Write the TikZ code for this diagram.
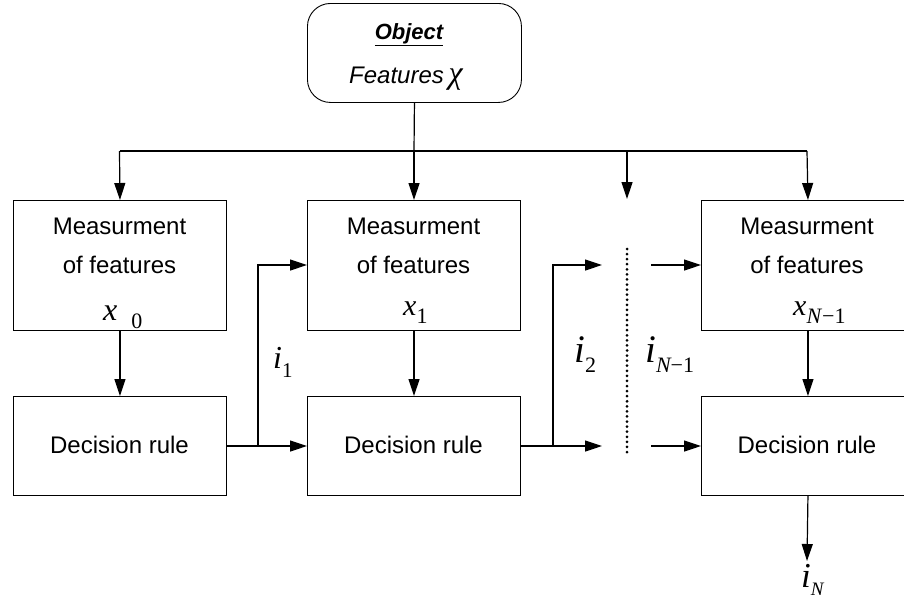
\documentclass[tikz,border=0pt]{standalone}
\usepackage{fontspec}
\setmainfont{Liberation Sans}
\newfontfamily\tms{Liberation Serif}
\usetikzlibrary{arrows.meta}
\newcommand{\fsz}[1]{\fontsize{#1}{#1}\selectfont}
\newcommand{\mvar}[2]{{\tms\itshape\fsz{#1}#2}}
\newcommand{\msub}[3]{\raisebox{-#1pt}{\tms\fsz{#2}#3}}
\begin{document}
\begin{tikzpicture}[x=1pt,y=-1pt,
  box/.style={draw,line width=0.9pt,minimum width=213pt,minimum height=130pt,inner sep=0pt,anchor=north west},
  dbox/.style={draw,line width=0.9pt,minimum width=213pt,minimum height=99pt,inner sep=0pt,anchor=north west},
  conn/.style={line width=1.2pt},
  arr/.style={line width=1.2pt,-{Triangle[length=17pt,width=11pt]}},
  lbl/.style={inner sep=0pt,anchor=base west},
  txt/.style={inner sep=0pt,anchor=base,font=\fsz{24}}]
\useasboundingbox (0,0) rectangle (904,598);
% object
\node[draw,line width=0.9pt,rounded corners=23pt,minimum width=214pt,minimum height=99pt,anchor=north west] (obj) at (307,3) {};
\node[txt,font=\fsz{22}] (objt) at (409,39) {\bfseries\itshape\underline{Object}};
\node[lbl] (objf) at (349,83) {\itshape\fsz{24}Features \hspace{-2pt}\mvar{32}{χ}};
% boxes
\node[box] (m0) at (13,200) {};
\node[box] (m1) at (307,200) {};
\node[box] (m2) at (701,200) {};
\node[dbox] (d0) at (13,396) {};
\node[dbox] (d1) at (307,396) {};
\node[dbox] (d2) at (701,396) {};
% texts
\foreach \n/\xx in {a/119.5,b/413.5,c/807}{
  \node[txt] (ma\n) at (\xx,234) {Measurment};
  \node[txt] (mb\n) at (\xx,273) {of features};
  \node[txt] (dr\n) at (\xx,453) {Decision rule};
}
\node[lbl] (x0) at (103,320) {\mvar{32}{x}\hspace{14pt}\msub{8}{22}{0}};
\node[lbl] (x1) at (403,315) {\mvar{30}{x}\hspace{0pt}\msub{8}{22}{1}};
\node[lbl] (x2) at (793,315) {\mvar{30}{x}\msub{8}{22}{\itshape N\hspace{1pt}\upshape −1}};
\node[lbl] (i1) at (273,368) {\mvar{32}{i}\hspace{0pt}\msub{9}{21}{1}};
\node[lbl] (i2) at (574,362) {\mvar{39}{i}\hspace{0pt}\msub{10}{22}{2}};
\node[lbl] (i3) at (645,362) {\mvar{39}{i}\hspace{0pt}\msub{10}{22}{\itshape N\upshape −1}};
\node[lbl] (iN) at (801,587) {\mvar{35}{i}\hspace{0pt}\msub{8}{19}{\itshape N}};
% coordinates
\coordinate (top) at (414,151);
\coordinate (L) at (119.5,151);
\coordinate (R) at (807,151);
\coordinate (D) at (627,151);
\coordinate (Dend) at (627,199);
\coordinate (b1) at (258,446);
\coordinate (b1u) at (258,265);
\coordinate (b2) at (553,446);
\coordinate (b2u) at (553,265);
\coordinate (b2e) at (602,265);
\coordinate (b2f) at (602,446);
\coordinate (c1) at (651,265);
\coordinate (c2) at (651,446);
\coordinate (dt) at (627,249);
\coordinate (db) at (627,452);
\coordinate (out) at (807,561);
% connectors
\draw[conn] (obj.south) -- (top);
\draw[conn] (L) -- (R);
\draw[arr] (L) -- (m0.north);
\draw[arr] (top) -- (m1.north -| top);
\draw[arr] (D) -- (Dend);
\draw[arr] (R) -- (m2.north);
\draw[arr] (m0.south) -- (d0.north);
\draw[arr] (m1.south -| top) -- (d1.north -| top);
\draw[arr] (m2.south) -- (d2.north);
\draw[arr] (d0.east |- b1) -- (d1.west |- b1);
\draw[arr] (b1) -- (b1u) -- (b1u -| m1.west);
\draw[arr] (d1.east |- b2) -- (b2f);
\draw[arr] (b2) -- (b2u) -- (b2e);
\draw[arr] (c1) -- (c1 -| m2.west);
\draw[arr] (c2) -- (c2 -| d2.west);
\draw[arr] (d2.south) -- (out);
\draw[line width=3pt,dash pattern=on 0pt off 5.075pt,line cap=round] (dt) -- (db);
\end{tikzpicture}
\end{document}
